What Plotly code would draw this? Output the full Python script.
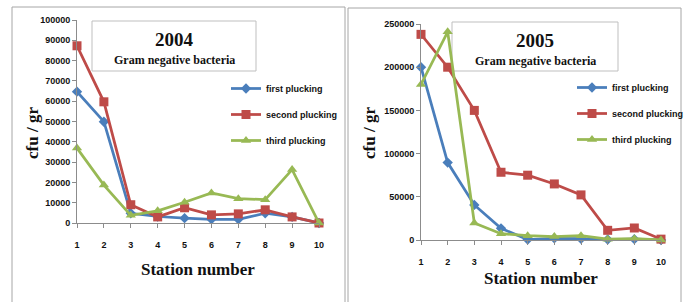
import plotly.graph_objects as go

W, H = 686, 302

stations = [1, 2, 3, 4, 5, 6, 7, 8, 9, 10]
series_names = ["first plucking", "second plucking", "third plucking"]

first_2004 = [64700, 49900, 4800, 3200, 2400, 1800, 1800, 4800, 3000, 0]
second_2004 = [87300, 59700, 9000, 3000, 7500, 4000, 4500, 6500, 3000, 0]
third_2004 = [36900, 18700, 3800, 6000, 10200, 14800, 12000, 11500, 26300, 0]

first_2005 = [200000, 89600, 40600, 13500, 500, 2000, 1500, 500, 1000, 0]
second_2005 = [238000, 200000, 150000, 78400, 75000, 64900, 52200, 11200, 13900, 1000]
third_2005 = [180000, 241000, 19700, 7300, 5000, 4000, 5000, 1000, 1500, 0]

y_ticks_2004 = [0, 10000, 20000, 30000, 40000, 50000, 60000, 70000, 80000, 90000, 100000]
y_ticks_2005 = [0, 50000, 100000, 150000, 200000, 250000]

colors = ["#4A7EBB", "#BE4B48", "#98B954"]
symbols = ["diamond", "square", "triangle-up"]
msizes = [8, 9, 9]

NARROW = "Liberation Sans Narrow, Arial Narrow, Liberation Sans, Arial"
TICKFONT = dict(family=NARROW, size=9, color="#111111", weight="bold")
SERIF = "Liberation Serif, Times New Roman, serif"

fig = go.Figure()


def px(x):
    return x / W


def py(y):
    return 1 - y / H


panels = [
    dict(x="x", y="y", legend="legend", data=[first_2004, second_2004, third_2004]),
    dict(x="x2", y="y2", legend="legend2", data=[first_2005, second_2005, third_2005]),
]

for p in panels:
    for i, name in enumerate(series_names):
        fig.add_trace(go.Scatter(
            x=stations, y=p["data"][i], name=name, mode="lines+markers",
            xaxis=p["x"], yaxis=p["y"], legend=p["legend"], legendgroup=p["legend"] + name,
            line=dict(color=colors[i], width=2.75),
            marker=dict(symbol=symbols[i], size=msizes[i], color=colors[i],
                        line=dict(width=0)),
            cliponaxis=False,
        ))

axis_common = dict(showgrid=False, zeroline=False, showline=True, linecolor="#8C8C8C",
                   linewidth=1, ticks="outside", tickcolor="#8C8C8C", ticklen=4,
                   tickfont=TICKFONT)

legend_font = dict(family=NARROW, size=9, color="#111111", weight="bold")

fig.update_layout(
    width=W, height=H,
    margin=dict(l=0, r=0, t=0, b=0, autoexpand=False),
    paper_bgcolor="white", plot_bgcolor="rgba(0,0,0,0)",
    xaxis=dict(domain=[px(77), px(319)], range=[1, 10], anchor="y", tickvals=stations,
               ticklabelstandoff=9, **axis_common),
    yaxis=dict(domain=[py(223), py(20)], range=[0, 100000], anchor="x", tickvals=y_ticks_2004,
               tickformat="d", **axis_common),
    xaxis2=dict(domain=[px(421), px(661)], range=[1, 10], anchor="y2", tickvals=stations,
                ticklabelstandoff=9, **axis_common),
    yaxis2=dict(domain=[py(240), py(24)], range=[0, 250000], anchor="x2", tickvals=y_ticks_2005,
                tickformat="d", **axis_common),
    legend=dict(x=px(226), y=py(74), xanchor="left", yanchor="top", bgcolor="rgba(0,0,0,0)",
                font=legend_font, itemwidth=30, traceorder="grouped", tracegroupgap=7),
    legend2=dict(x=px(572), y=py(73), xanchor="left", yanchor="top", bgcolor="rgba(0,0,0,0)",
                 font=legend_font, itemwidth=30, traceorder="grouped", tracegroupgap=7),
    showlegend=True,
)

shapes = [
    dict(type="rect", xref="paper", yref="paper", x0=px(12), x1=px(345), y0=py(310), y1=py(7),
         line=dict(color="#A6A6A6", width=1), fillcolor="rgba(0,0,0,0)", layer="below"),
    dict(type="rect", xref="paper", yref="paper", x0=px(348), x1=px(681), y0=py(310), y1=py(8),
         line=dict(color="#A6A6A6", width=1), fillcolor="rgba(0,0,0,0)", layer="below"),
    dict(type="rect", xref="paper", yref="paper", x0=px(92), x1=px(256), y0=py(71), y1=py(21),
         line=dict(color="#BFBFBF", width=1), fillcolor="white", layer="below"),
    dict(type="rect", xref="paper", yref="paper", x0=px(452), x1=px(618), y0=py(71), y1=py(22),
         line=dict(color="#BFBFBF", width=1), fillcolor="white", layer="below"),
]
fig.update_layout(shapes=shapes)

ann = []
for cx, year, yy in [(174, "2004", 39), (535, "2005", 40)]:
    ann.append(dict(x=px(cx), y=py(yy), xref="paper", yref="paper", text=year, showarrow=False,
                    xanchor="center", yanchor="middle",
                    font=dict(family=SERIF, size=19, color="#111111", weight="bold")))
    ann.append(dict(x=px(cx), y=py(yy + 21), xref="paper", yref="paper",
                    text="Gram negative bacteria", showarrow=False,
                    xanchor="center", yanchor="middle",
                    font=dict(family=SERIF, size=12, color="#111111", weight="bold")))
for cx, cy in [(198, 269), (541, 278)]:
    ann.append(dict(x=px(cx), y=py(cy), xref="paper", yref="paper", text="Station number",
                    showarrow=False, xanchor="center", yanchor="middle",
                    font=dict(family=SERIF, size=17, color="#111111", weight="bold")))
for cx, cy in [(33, 133), (370, 133)]:
    ann.append(dict(x=px(cx), y=py(cy), xref="paper", yref="paper", text="cfu / gr",
                    showarrow=False, textangle=-90, xanchor="center", yanchor="middle",
                    font=dict(family=SERIF, size=17, color="#111111", weight="bold")))
fig.update_layout(annotations=ann)

fig.write_html("out.html", config={"displayModeBar": False},
               post_script="document.body.style.margin='0';")
